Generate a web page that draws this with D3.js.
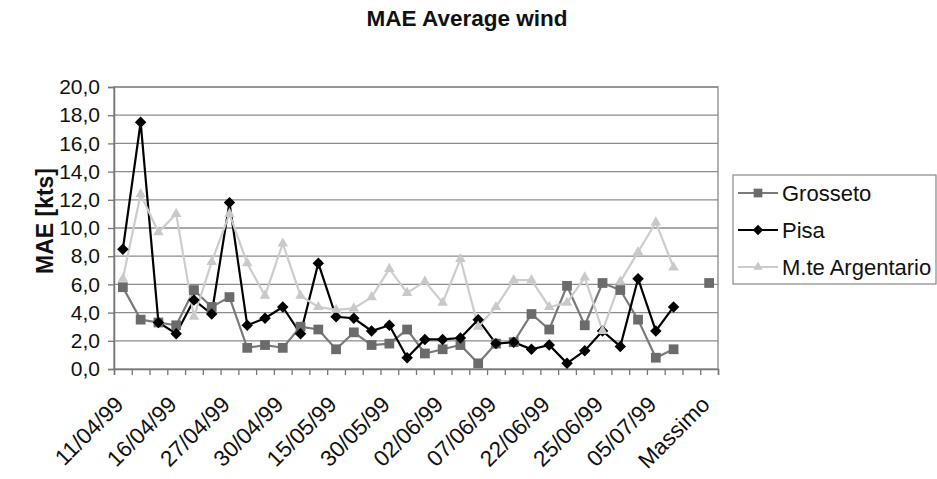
<!DOCTYPE html>
<html><head><meta charset="utf-8">
<script src="https://cdn.jsdelivr.net/npm/d3@7"></script>
<style>
body{margin:0;background:#fff;}
svg{display:block;font-family:"Liberation Sans",Arial,sans-serif;}
</style></head>
<body><svg id="c" width="937" height="479"></svg>
<script>
// 34 categories; only every third one carries a visible label
const nCategories = 34;
const tickLabels = ["11/04/99","16/04/99","27/04/99","30/04/99","15/05/99","30/05/99","02/06/99","07/06/99","22/06/99","25/06/99","05/07/99","Massimo"];
const tickStep = 3;
const yTicks = [0,2,4,6,8,10,12,14,16,18,20];

const grosseto = [5.8,3.5,3.3,3.1,5.6,4.4,5.1,1.5,1.7,1.5,3.0,2.8,1.4,2.6,1.7,1.8,2.8,1.1,1.4,1.7,0.4,1.8,1.9,3.9,2.8,5.9,3.1,6.1,5.6,3.5,0.8,1.4,null,6.1];
const pisa = [8.5,17.5,3.3,2.5,4.9,3.9,11.8,3.1,3.6,4.4,2.5,7.5,3.7,3.6,2.7,3.1,0.8,2.1,2.1,2.2,3.5,1.8,1.9,1.4,1.7,0.4,1.3,2.7,1.6,6.4,2.7,4.4,null,null];
const argentario = [6.4,12.4,9.7,11.0,3.7,7.6,11.0,7.5,5.2,8.9,5.2,4.4,4.2,4.3,5.1,7.1,5.4,6.2,4.7,7.8,3.0,4.4,6.3,6.3,4.4,4.7,6.5,2.7,6.2,8.3,10.4,7.2,null,null];

const seriesNames = ["Grosseto","Pisa","M.te Argentario"];
const series = [
  {name:seriesNames[0], values:grosseto, color:"#6b6b6b", line:"#7a7a7a", symbol:d3.symbolSquare, size:95, rot:0},
  {name:seriesNames[1], values:pisa, color:"#000", line:"#000", symbol:d3.symbolSquare, size:66, rot:45},
  {name:seriesNames[2], values:argentario, color:"#c9c9c9", line:"#cdcdcd", symbol:d3.symbolTriangle, size:48, rot:0}
];

const svg = d3.select("#c");
const L=114, R=718, T=87, B=369;
const idx = d3.range(nCategories);
const x = d3.scaleBand().domain(idx).range([L,R]).padding(0);
const xEdges = d3.scaleLinear().domain([0,nCategories]).range([L,R]);
const y = d3.scaleLinear().domain([0,20]).range([B,T]);
const cx = i => x(i)+x.bandwidth()/2;

// frame
svg.append("rect").attr("x",L).attr("y",T).attr("width",R-L).attr("height",B-T)
  .attr("fill","none").attr("stroke","#9a9a9a").attr("stroke-width",1.5);
// gridlines
svg.append("g").selectAll("line").data(yTicks.slice(1)).join("line")
  .attr("x1",L).attr("x2",R).attr("y1",d=>y(d)).attr("y2",d=>y(d))
  .attr("stroke","#8c8c8c").attr("stroke-width",1.3);

// y axis
const ya = svg.append("g").attr("transform",`translate(${L},0)`)
  .call(d3.axisLeft(y).tickValues(yTicks).tickSize(6).tickPadding(8).tickFormat(d=>d.toFixed(1).replace(".",",")));
ya.select(".domain").attr("stroke","#777").attr("stroke-width",1.5);
ya.selectAll(".tick line").attr("stroke","#777").attr("stroke-width",1.3);
ya.selectAll("text").attr("font-size",21).attr("fill","#111").attr("font-family","Liberation Sans, Arial, sans-serif");

// x axis tick marks at band edges
const xa = svg.append("g").attr("transform",`translate(0,${B})`)
  .call(d3.axisBottom(xEdges).tickValues(d3.range(nCategories+1)).tickSize(6).tickFormat(""));
xa.select(".domain").attr("stroke","#777").attr("stroke-width",1.5);
xa.selectAll(".tick line").attr("stroke","#777").attr("stroke-width",1.3);

// x labels
const labelIdx = tickLabels.map((_,k)=>k*tickStep);
const xl = svg.append("g").attr("transform",`translate(0,${B})`)
  .call(d3.axisBottom(x).tickValues(labelIdx).tickSize(0).tickFormat((d)=>tickLabels[d/tickStep]));
xl.select(".domain").remove();
xl.selectAll("text").attr("font-size",22.5).attr("fill","#111").attr("font-family","Liberation Sans, Arial, sans-serif")
  .attr("text-anchor","end").attr("dy",null).attr("y",0)
  .attr("transform","translate(2,37) rotate(-45)");

// lines
const lineGen = d3.line().defined(d=>d[1]!=null).x(d=>cx(d[0])).y(d=>y(d[1]));
series.forEach(s=>{
  const pts = s.values.map((v,i)=>[i,v]);
  svg.append("path").datum(pts).attr("d",lineGen).attr("fill","none")
    .attr("stroke",s.line).attr("stroke-width",2.2);
});
series.forEach(s=>{
  const pts = s.values.map((v,i)=>[i,v]).filter(d=>d[1]!=null);
  svg.append("g").selectAll("path").data(pts).join("path")
    .attr("d",d3.symbol().type(s.symbol).size(s.size))
    .attr("transform",d=>`translate(${cx(d[0])},${y(d[1])}) rotate(${s.rot})`)
    .attr("fill",s.color);
});

// title
svg.append("text").attr("x",467).attr("y",26).attr("text-anchor","middle")
  .attr("font-size",22.5).attr("font-weight","bold").attr("fill","#111")
  .text("MAE Average wind");
// y title
svg.append("text").attr("transform","translate(53,221) rotate(-90)").attr("text-anchor","middle")
  .attr("font-size",23).attr("font-weight","bold").attr("fill","#111").text("MAE [kts]");

// legend
const lg = svg.append("g");
lg.append("rect").attr("x",733).attr("y",175).attr("width",203).attr("height",109)
  .attr("fill","#fff").attr("stroke","#888").attr("stroke-width",1.2);
series.forEach((s,k)=>{
  const cy = 193+k*37;
  lg.append("line").attr("x1",738).attr("x2",778).attr("y1",cy).attr("y2",cy).attr("stroke",s.line).attr("stroke-width",2.2);
  lg.append("path").attr("d",d3.symbol().type(s.symbol).size(s.size*0.8)).attr("transform",`translate(758,${cy}) rotate(${s.rot})`).attr("fill",s.color);
  lg.append("text").attr("x",782).attr("y",cy+8).attr("font-size",22).attr("fill","#111").text(s.name);
});
</script></body></html>
